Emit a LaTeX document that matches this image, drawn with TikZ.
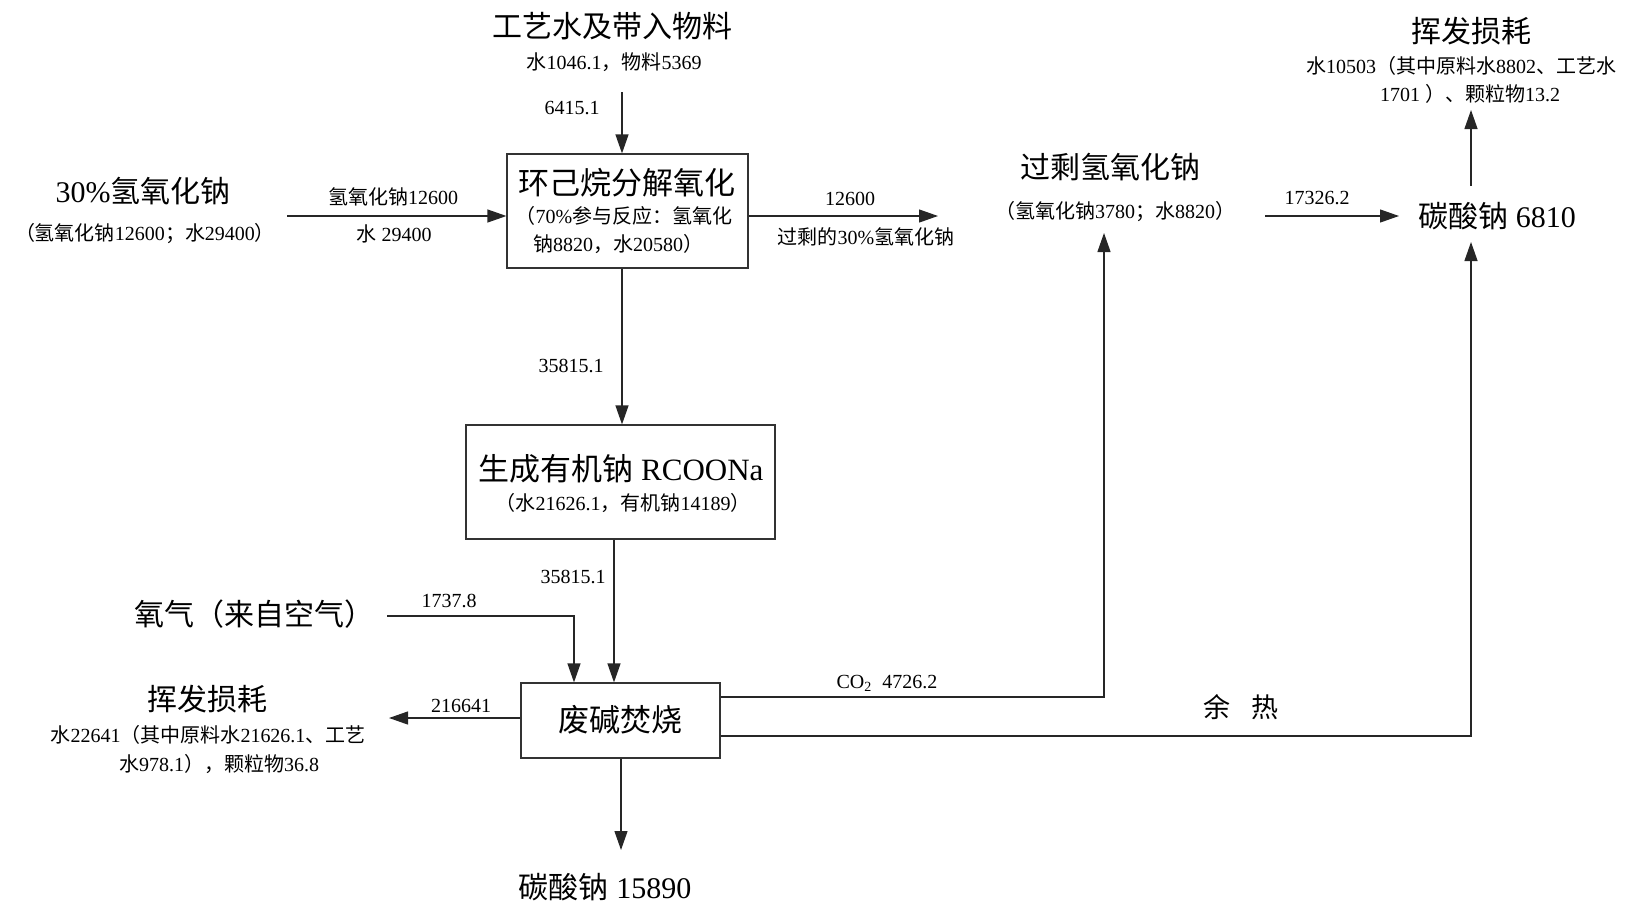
\documentclass[tikz,border=0pt]{standalone}
\usepackage{fontspec}
\setmainfont{Liberation Serif}
\newfontfamily\zhfont{Noto Sans CJK SC}
\newcommand{\z}[1]{{\zhfont #1}}
\usetikzlibrary{arrows.meta}
\begin{document}
\begin{tikzpicture}[x=1pt,y=-1pt,
  big/.style={font=\fontsize{30}{36}\selectfont, inner sep=0pt},
  small/.style={font=\fontsize{20}{26}\selectfont, inner sep=0pt},
  box/.style={draw=black!80, line width=1.2pt, inner sep=0pt},
  arr/.style={line width=1.2pt, draw=black!85, -{Triangle[length=19pt,width=13pt]}},
  ln/.style={line width=1.2pt, draw=black!85}]
\useasboundingbox (0,0) rectangle (1639,905);

% top input
\node[big] (gy) at (612,26) {\z{工艺水及带入物料}};
\node[small] (gyv) at (614,62) {\z{水}1046.1\z{，物料}5369};
\coordinate (gys) at (622,92);
\node[small] (l6415) at (572,108) {6415.1};

% box 1
\node[box, minimum width=241pt, minimum height=114pt] (b1) at (627.5,211) {};
\node[font=\fontsize{31}{36}\selectfont, inner sep=0pt] (b1t) at (627,183) {\z{环己烷分解氧化}};
\node[small] (b1a) at (624,216) {\z{（}70\%\z{参与反应：氢氧化}};
\node[small] (b1b) at (618,244) {\z{钠}8820\z{，水}20580\z{）}};
\draw[arr] (gys) -- (gys |- b1.north);

% NaOH input
\node[big] (naoh) at (143,191) {30\%\z{氢氧化钠}};
\node[small] (naohv) at (145,234) {\z{（氢氧化钠}12600\z{；水}29400\z{）}};
\coordinate (na0) at (287,216);
\draw[arr] (na0) -- (na0 -| b1.west);
\node[small] (lna1) at (393,197) {\z{氢氧化钠}12600};
\node[small] (lna2) at (394,234) {\z{水} 29400};

% excess NaOH
\coordinate (ex1) at (938,216);
\draw[arr] (b1.east |- ex1) -- (ex1);
\node[small] (lex1) at (850,199) {12600};
\node[small] (lex2) at (866,237) {\z{过剩的}30\%\z{氢氧化钠}};
\node[big] (gs) at (1110,167) {\z{过剩氢氧化钠}};
\node[small] (gsv) at (1115,212) {\z{（氢氧化钠}3780\z{；水}8820\z{）}};

% sodium carbonate 6810
\coordinate (c1) at (1265,216);
\coordinate (c2) at (1399,216);
\draw[arr] (c1) -- (c2);
\node[small] (l17326) at (1317,198) {17326.2};
\node[big] (cs1) at (1497,216) {\z{碳酸钠} 6810};
\coordinate (v1) at (1471,186);
\coordinate (v2) at (1471,110);
\draw[arr] (v1) -- (v2);
\node[big] (hf1) at (1471,31) {\z{挥发损耗}};
\node[small] (hf1a) at (1461,66) {\z{水}10503\z{（其中原料水}8802\z{、工艺水}};
\node[small] (hf1b) at (1470,94) {1701 \z{）、颗粒物}13.2};

% box 2
\node[box, minimum width=309pt, minimum height=114pt] (b2) at (620.5,482) {};
\node[font=\fontsize{31}{36}\selectfont, inner sep=0pt] (b2t) at (621,469) {\z{生成有机钠} RCOONa};
\node[small] (b2a) at (623,503) {\z{（水}21626.1\z{，有机钠}14189\z{）}};
\coordinate (x1) at (622,0);
\draw[arr] (b1.south -| x1) -- (b2.north -| x1);
\node[small] (l358a) at (571,366) {35815.1};

% box 3
\node[box, minimum width=199pt, minimum height=75pt] (b3) at (620.5,720.5) {};
\node[font=\fontsize{31}{36}\selectfont, inner sep=0pt] (b3t) at (620,720) {\z{废碱焚烧}};
\coordinate (x2) at (614,0);
\draw[arr] (b2.south -| x2) -- (b3.north -| x2);
\node[small] (l358b) at (573,577) {35815.1};

% oxygen
\node[big] (o2) at (254,614) {\z{氧气（来自空气）}};
\coordinate (o1) at (387,616);
\coordinate (x3) at (574,0);
\draw[arr] (o1) -| (b3.north -| x3);
\node[small] (l1737) at (449,601) {1737.8};

% volatile loss left
\coordinate (l3) at (389,718);
\draw[arr] (b3.west |- l3) -- (l3);
\node[small] (l216) at (461,706) {216641};
\node[big] (hf2) at (207,699) {\z{挥发损耗}};
\node[small] (hf2a) at (208,735) {\z{水}22641\z{（其中原料水}21626.1\z{、工艺}};
\node[small] (hf2b) at (219,764) {\z{水}978.1\z{），颗粒物}36.8};

% sodium carbonate 15890
\coordinate (d1) at (621,850);
\draw[arr] (b3.south -| d1) -- (d1);
\node[big] (cs2) at (605,887) {\z{碳酸钠} 15890};

% CO2
\coordinate (co1) at (1104,697);
\coordinate (co2) at (1104,233);
\draw[arr] (b3.east |- co1) -- (co1) -- (co2);
\node[small] (lco2) at (887,683) {CO\textsubscript{2}\; 4726.2};

% waste heat
\coordinate (h1) at (1471,736);
\coordinate (h2) at (1471,242);
\draw[arr] (b3.east |- h1) -- (h1) -- (h2);
\node[font=\fontsize{27}{32}\selectfont, inner sep=0pt] (yr) at (1241,707) {\z{余}\hspace{22pt}\z{热}};
\end{tikzpicture}
\end{document}
